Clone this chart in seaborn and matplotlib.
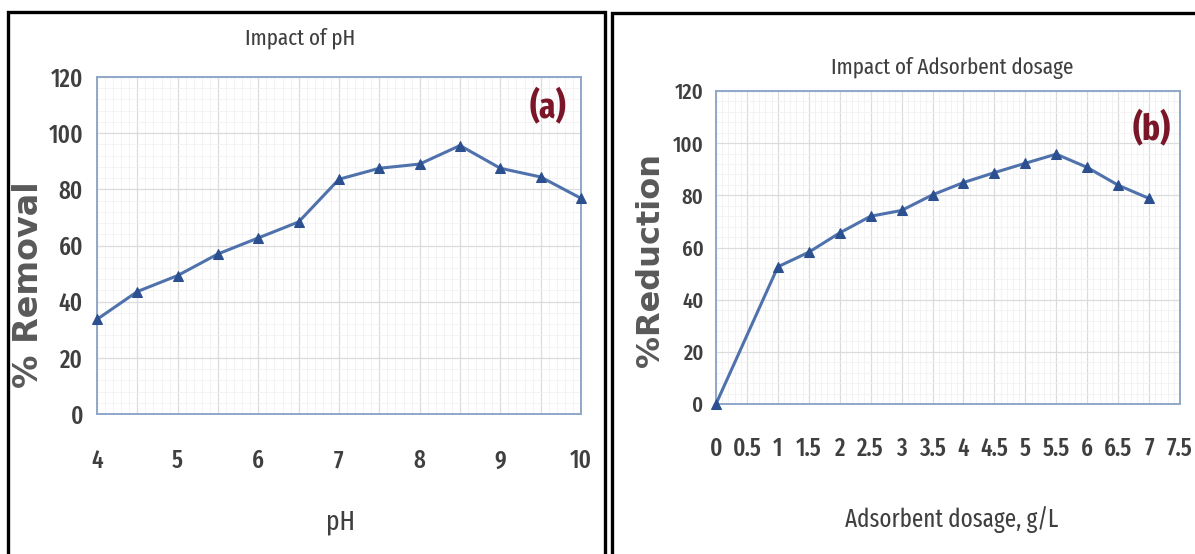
import numpy as np
import pandas as pd
import matplotlib
matplotlib.use("Agg")
import matplotlib.pyplot as plt
from matplotlib.ticker import MultipleLocator, FuncFormatter
from matplotlib.patches import Rectangle
import seaborn as sns

# ---------------- data ----------------
ph = [4, 4.5, 5, 5.5, 6, 6.5, 7, 7.5, 8, 8.5, 9, 9.5, 10]
removal = [33.7, 43.6, 49.3, 57.0, 62.7, 68.4, 83.6, 87.5, 89.0, 95.6, 87.5, 84.4, 76.8]

dosage = [0, 1, 1.5, 2, 2.5, 3, 3.5, 4, 4.5, 5, 5.5, 6, 6.5, 7]
reduction = [0, 52.6, 58.2, 65.6, 72.0, 74.2, 80.2, 84.9, 88.7, 92.3, 95.8, 90.7, 83.9, 78.8]

# ---------------- style ----------------
sns.set_style("white")
FONTS = ['Fira Sans Extra Condensed', 'Carlito', 'Liberation Sans', 'DejaVu Sans']
plt.rcParams['font.family'] = FONTS

W, H = 1195, 554
fig = plt.figure(figsize=(W / 100, H / 100), dpi=100)
fig.patch.set_facecolor("white")

LINE_C = "#4F72AC"
MARK_C = "#2B4F8F"
SPINE_C = "#8FA7C9"
TEXT_C = "#3F3F3F"
YLAB_C = "#595959"
RED_C = "#7A1628"
TICK_WT = 500


def box(px_l, px_t, px_r, px_b):
    return [px_l / W, 1 - px_b / H, (px_r - px_l) / W, (px_b - px_t) / H]


def style_axes(ax, xmajor, xminor, ytick_size, xtick_size, xpad, ypad, label_filter=None):
    ax.set_ylim(0, 120)
    ax.yaxis.set_major_locator(MultipleLocator(20))
    ax.yaxis.set_minor_locator(MultipleLocator(4))
    ax.xaxis.set_major_locator(MultipleLocator(xmajor))
    ax.xaxis.set_minor_locator(MultipleLocator(xminor))
    if label_filter is not None:
        ax.xaxis.set_major_formatter(FuncFormatter(label_filter))
    else:
        ax.xaxis.set_major_formatter(FuncFormatter(lambda v, p: f"{v:g}"))
    ax.grid(which="major", color="#DCDCDC", linewidth=0.9)
    ax.grid(which="minor", color="#F1F1F1", linewidth=0.6)
    ax.set_axisbelow(True)
    for s in ax.spines.values():
        s.set_visible(True)
        s.set_color(SPINE_C)
        s.set_linewidth(1.4)
    ax.tick_params(which="both", length=0)
    ax.tick_params(axis="x", labelsize=xtick_size, labelcolor=TEXT_C, pad=xpad)
    ax.tick_params(axis="y", labelsize=ytick_size, labelcolor=TEXT_C, pad=ypad)
    for lab in ax.get_xticklabels() + ax.get_yticklabels():
        lab.set_fontweight(TICK_WT)
    ax.set_xlabel("")
    ax.set_ylabel("")


# ---------------- panel (a) ----------------
ax1 = fig.add_axes(box(97, 77, 581, 414))
df1 = pd.DataFrame({"pH": ph, "removal": removal})
sns.lineplot(data=df1, x="pH", y="removal", ax=ax1, color=LINE_C, linewidth=2.2,
             marker="^", markersize=7, markerfacecolor=MARK_C, markeredgecolor=MARK_C,
             clip_on=False, zorder=3)
ax1.set_xlim(4, 10)
style_axes(ax1, 0.5, 0.1, 18, 18, 25, 10,
           label_filter=lambda v, p: f"{v:g}" if abs(v - round(v)) < 1e-6 else "")

fig.text(300 / W, 1 - 38 / H, "Impact of pH", ha="center", va="center",
         fontsize=16.5, color=TEXT_C)
fig.text(548 / W, 1 - 108 / H, "(a)", ha="center", va="center",
         fontsize=26, fontweight="bold", color=RED_C)
fig.text(29 / W, 1 - 285 / H, "% Removal", ha="center", va="center", rotation=90,
         fontsize=24, fontweight="bold", color=YLAB_C, family=["DejaVu Sans"])
fig.text(340 / W, 1 - 522 / H, "pH", ha="center", va="center",
         fontsize=20, color=TEXT_C)

# ---------------- panel (b) ----------------
ax2 = fig.add_axes(box(716, 91, 1180, 404))
df2 = pd.DataFrame({"dosage": dosage, "reduction": reduction})
sns.lineplot(data=df2, x="dosage", y="reduction", ax=ax2, color=LINE_C, linewidth=2.2,
             marker="^", markersize=6.5, markerfacecolor=MARK_C, markeredgecolor=MARK_C,
             clip_on=False, zorder=3)
ax2.set_xlim(0, 7.5)
style_axes(ax2, 0.5, 0.1, 16, 18, 23, 9)

fig.text(952 / W, 1 - 68 / H, "Impact of Adsorbent dosage", ha="center", va="center",
         fontsize=16.5, color=TEXT_C)
fig.text(1152 / W, 1 - 130 / H, "(b)", ha="center", va="center",
         fontsize=26, fontweight="bold", color=RED_C)
fig.text(650 / W, 1 - 260 / H, "%Reduction", ha="center", va="center", rotation=90,
         fontsize=23, fontweight="bold", color=YLAB_C, family=["DejaVu Sans"])
fig.text(952 / W, 1 - 520 / H, "Adsorbent dosage, g/L", ha="center", va="center",
         fontsize=18, color=TEXT_C)

# ---------------- panel frames ----------------
fig.add_artist(Rectangle((8 / W, -0.05), (605 - 8) / W, 1 - 12 / H + 0.05,
                         transform=fig.transFigure, fill=False, edgecolor="black",
                         linewidth=2.4, clip_on=False))
fig.add_artist(Rectangle((612 / W, -0.05), 0.6, 1 - 13 / H + 0.05,
                         transform=fig.transFigure, fill=False, edgecolor="black",
                         linewidth=2.4, clip_on=False))

fig.savefig("out.png", dpi=100, facecolor="white")
